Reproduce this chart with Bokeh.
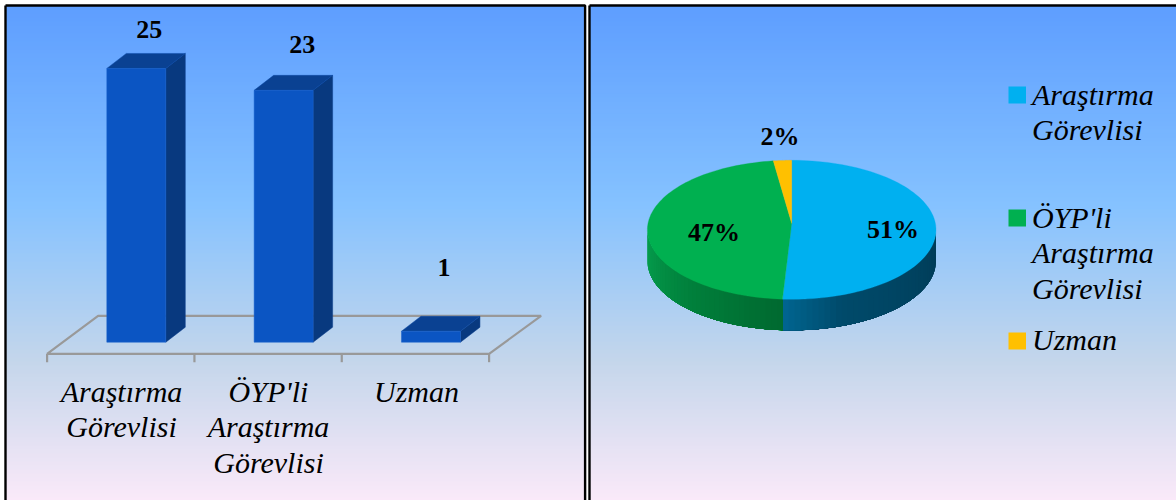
import numpy as np
from bokeh.plotting import figure
from bokeh.layouts import row
from bokeh.models import Range1d
from bokeh.core.properties import value
from bokeh.embed import file_html
from bokeh.resources import INLINE

# ---------- data ----------
categories = ["Araştırma Görevlisi", "ÖYP'li Araştırma Görevlisi", "Uzman"]
category_lines = [["Araştırma", "Görevlisi"], ["ÖYP'li", "Araştırma", "Görevlisi"], ["Uzman"]]
counts = [25, 23, 1]
pie_colors = ["#00B0F0", "#00B050", "#FFC000"]

SERIF = value("Liberation Serif")
W1, W2, H = 587, 589, 500
STOPS = [(0.0, "#5E9EFF"), (0.39, "#85C2FF"), (0.70, "#C4D6EB"), (1.0, "#FFEBFA")]


def hex_rgb(c):
    return np.array([int(c[i:i + 2], 16) for i in (1, 3, 5)], float)


def ramp(stops, f):
    for (a, ca), (b, cb) in zip(stops, stops[1:]):
        if f <= b:
            m = (f - a) / (b - a) if b > a else 0
            r = hex_rgb(ca) * (1 - m) + hex_rgb(cb) * m
            return "#%02x%02x%02x" % tuple(int(round(v)) for v in r)
    return stops[-1][1]


def make_fig(w, xr, yr):
    p = figure(width=w, height=H, x_range=Range1d(*xr), y_range=Range1d(*yr),
               output_backend="svg", toolbar_location=None, min_border=0,
               background_fill_color="white", border_fill_color="white")
    p.axis.visible = False
    p.grid.visible = False
    p.outline_line_color = None
    return p


def gradient(p, x0, x1, to_y):
    tops = np.arange(5, 505, 4)
    cols = [ramp(STOPS, (t - 5) / 505) for t in tops]
    p.quad(left=x0, right=x1, top=[to_y(t) for t in tops], bottom=to_y(512),
           fill_color=cols, line_color=None)


# ---------- left panel: 3D columns ----------
BASE, K = 341.7, 10.95
CAT = 147.33
X0 = 46.6
px = lambda v: (v - X0) / CAT
py = lambda v: (BASE - v) / K

p1 = make_fig(W1, (px(0), px(W1)), (py(H), py(0)))
gradient(p1, px(5), px(584), py)

fx = [px(46.6), px(97.6), px(540.6), px(488.6), px(46.6)]
fy = [py(353.3), py(315.3), py(315.3), py(353.3), py(353.3)]
p1.line(fx, fy, line_color="#999999", line_width=2.2)
for i in range(len(categories) + 1):
    p1.line([i, i], [py(353.3), py(361.7)], line_color="#999999", line_width=2.2)

BAR_W = 59 / CAT
DX, DY = 19.5 / CAT, 15 / K
LEFT_SHIFT = (106.3 - X0) / CAT
for i, c in enumerate(counts):
    l = i + LEFT_SHIFT
    r = l + BAR_W
    p1.patch([r, r + DX, r + DX, r], [0, DY, c + DY, c], fill_color="#08397F", line_color="#0A3F8C", line_width=0.5)
    p1.patch([l, r, r + DX, l + DX], [c, c, c + DY, c + DY], fill_color="#0A4192", line_color="#0C4AA6", line_width=0.5)
    p1.quad(left=l, right=r, bottom=0, top=c, fill_color="#0B55C3", line_color="#1A63CC", line_width=0.5)

label_gap = [3.56, 4.2, 5.8]
label_dx = [13, 18.5, 13]
p1.text([i + LEFT_SHIFT + BAR_W / 2 + d / CAT for i, d in zip(range(3), label_dx)],
        [c + g for c, g in zip(counts, label_gap)],
        text=[str(c) for c in counts], text_font=SERIF, text_font_style="bold",
        text_font_size="26px", text_align="center", text_baseline="middle", text_color="black")

centers = [121, 268, 416]
for i, lines in enumerate(category_lines):
    for j, t in enumerate(lines):
        p1.text([px(centers[i])], [py(390.7 + j * 35.4)], text=[t], text_font=SERIF,
                text_font_style="italic", text_font_size="30px", text_align="center",
                text_baseline="middle", text_color="black")

p1.line([px(5), px(584.6), px(584.6)], [py(5), py(5), py(H)], line_color="black", line_width=2.4)
p1.line([px(5), px(5)], [py(5), py(H)], line_color="black", line_width=2.4)

# ---------- right panel: 3D pie ----------
p2 = make_fig(W2, (587, 587 + W2), (H, 0))
gradient(p2, 589, 587 + W2, lambda v: v)

CX, CY, RX, RY, DEPTH = 791.2, 229.3, 144.3, 69.5, 31
APEX_Y = 223
ex = lambda t: CX + RX * np.sin(np.radians(t))
ey = lambda t: CY - RY * np.cos(np.radians(t))

total = sum(counts)
shares = [c / total for c in counts]
edges = np.concatenate([[0], np.cumsum(shares) * 360])

seam = edges[1]
blue_side = [(0.0, "#003C57"), (0.75, "#004A6A"), (1.0, "#00648F")]
green_side = [(0.0, "#069F4E"), (0.55, "#007F3B"), (1.0, "#006A30")]

def wall(t_from, t_to, stops):
    steps = np.linspace(t_from, t_to, 40)
    for n, a in enumerate(steps[:-1]):
        c = ramp(stops, n / (len(steps) - 2))
        tt = np.linspace(a, t_to, 40)
        xs = list(ex(tt)) + list(ex(tt[::-1]))
        ys = list(ey(tt) + DEPTH) + list(ey(tt[::-1]))
        p2.patch(xs, ys, fill_color=c, line_color=None)

wall(90, seam, blue_side)
wall(270, seam, green_side)

for i, col in enumerate(pie_colors):
    tt = np.linspace(edges[i], edges[i + 1], 90)
    p2.patch([CX] + list(ex(tt)), [APEX_Y] + list(ey(tt)), fill_color=col, line_color=col, line_width=0.3)

pct = [f"{round(s * 100)}%" for s in shares]
p2.text([892.4, 713.4, 779.5], [229, 232, 135.7], text=pct, text_font=SERIF,
        text_font_style="bold", text_font_size="26px", text_align="center",
        text_baseline="middle", text_color="black")

leg_y = [[94, 129], [217, 252, 288], [339]]
swatch_y = [94.5, 217.5, 340.5]
for i, lines in enumerate(category_lines):
    p2.quad(left=1008, right=1025.5, top=swatch_y[i] - 8.5, bottom=swatch_y[i] + 8.5,
            fill_color=pie_colors[i], line_color=None)
    for t, y in zip(lines, leg_y[i]):
        p2.text([1031.5], [y], text=[t], text_font=SERIF, text_font_style="italic",
                text_font_size="30px", text_align="left", text_baseline="middle", text_color="black")

p2.line([589, 589], [H, 5], line_color="black", line_width=2.4)
p2.line([589, 587 + W2], [5, 5], line_color="black", line_width=2.4)

page = row(p1, p2, spacing=0)
open("out.html", "w").write(file_html(page, INLINE))
